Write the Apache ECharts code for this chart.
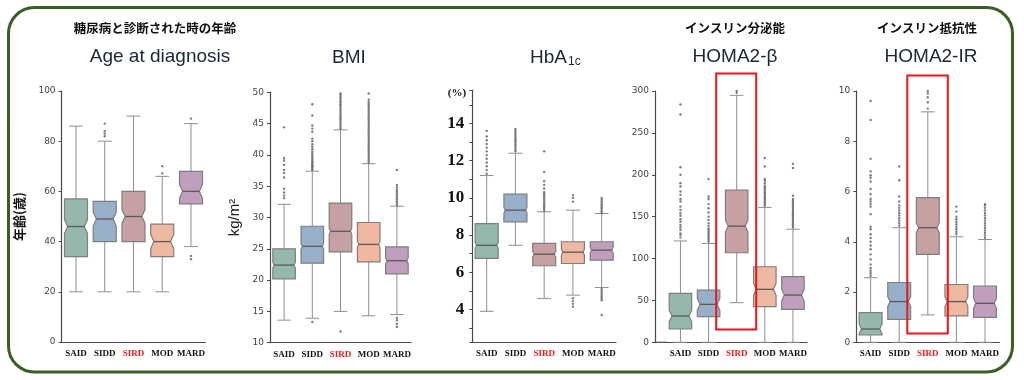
<!DOCTYPE html>
<html><head><meta charset="utf-8">
<script src="https://cdn.jsdelivr.net/npm/echarts@6/dist/echarts.min.js"></script>
<style>html,body{margin:0;padding:0;background:#fff}#c{width:1024px;height:380px}</style>
</head><body><div id="c"></div>
<script>
// ---------- DATA ----------
const categories = ['SAID', 'SIDD', 'SIRD', 'MOD', 'MARD'];
// each box: [low whisker, Q1, median, Q3, high whisker]
const ageBoxes = [[20, 34, 46, 57, 86], [20, 40, 49, 56, 80], [20, 40, 50, 60, 90], [20, 34, 40, 47, 66], [38, 55, 60, 68, 87]];
const ageOutliers = [[], [82, 83, 84, 87], [], [67.2, 70], [89, 34.3, 33]];
const ageAxis = [0, 100, 20];

const bmiBoxes = [[13.6, 20.2, 22.4, 25.0, 32.1], [13.9, 22.7, 25.4, 28.6, 37.4], [15.0, 24.5, 27.8, 32.3, 44.0], [14.3, 22.9, 25.7, 29.2, 38.6], [14.5, 21.0, 23.1, 25.3, 31.8]];
const bmiOutliers = [
  [33.1, 33.5, 34.0, 34.6, 36.4, 37.1, 37.6, 38.4, 39.1, 39.5, 44.4],
  [13.3, 37.6, 37.8, 38.0, 38.2, 38.4, 38.6, 38.8, 39.0, 39.3, 39.6, 39.9, 40.2, 40.5, 40.9, 41.3, 41.7, 42.2, 42.6, 43.7, 44.2, 44.7, 46.3, 48.1],
  [11.8, 44.2, 44.5, 44.8, 45.1, 45.4, 45.7, 46.0, 46.3, 46.6, 46.9, 47.2, 47.5, 47.8, 48.1, 48.4, 48.7, 49.0, 49.3, 49.6, 49.8],
  [38.8, 39.1, 39.4, 39.7, 40.0, 40.3, 40.6, 40.9, 41.2, 41.5, 41.8, 42.1, 42.4, 42.7, 43.0, 43.3, 43.6, 43.9, 44.2, 44.5, 44.8, 45.1, 45.4, 45.7, 46.0, 46.3, 46.6, 46.9, 47.2, 47.5, 47.8, 48.1, 48.4, 48.8, 49.8],
  [12.5, 13.0, 13.6, 14.0, 32.0, 32.3, 32.6, 32.9, 33.2, 33.5, 33.8, 34.1, 34.4, 34.8, 35.2, 37.6]
];
const bmiAxis = [10, 50, 5];

const hbaBoxes = [[3.9, 6.75, 7.45, 8.62, 11.2], [7.45, 8.71, 9.34, 10.2, 12.4], [4.59, 6.35, 6.97, 7.55, 9.25], [4.77, 6.47, 7.08, 7.64, 9.34], [5.18, 6.65, 7.19, 7.64, 9.16]];
const hbaOutliers = [
  [11.3, 11.5, 11.7, 11.9, 12.1, 12.3, 12.5, 12.7, 12.9, 13.1, 13.3, 13.6],
  [12.5, 12.6, 12.7, 12.8, 12.9, 13.0, 13.1, 13.2, 13.3, 13.4, 13.5, 13.6, 13.7],
  [9.3, 9.4, 9.5, 9.6, 9.7, 9.8, 9.9, 10.0, 10.1, 10.2, 10.3, 10.5, 10.7, 10.9, 11.4, 12.5],
  [9.8, 10.0, 10.15, 4.6, 4.45, 4.3, 4.15],
  [9.2, 9.3, 9.4, 9.5, 9.6, 9.7, 9.8, 9.9, 10.0, 5.1, 5.0, 4.9, 4.8, 4.7, 4.6, 4.5, 3.7]
];
const hbaLabels = [4, 6, 8, 10, 12, 14];

const betaBoxes = [[0, 15.9, 31.4, 58.4, 121], [0, 30.6, 45.3, 62.4, 118], [47.3, 106.9, 138.7, 181.6, 294.8], [0, 42.5, 63.2, 90.2, 161], [0, 39.3, 56.4, 78.3, 135]];
const betaOutliers = [
  [125, 128, 130, 134, 137, 140, 144, 147, 151, 154, 158, 162, 168, 171, 176, 180, 186, 190, 200, 209, 272, 284],
  [120, 122, 124, 126, 128, 130, 132, 134, 136, 139, 142, 146, 150, 155, 160, 165, 171, 174, 195],
  [298, 300],
  [163, 165, 167, 169, 171, 173, 175, 177, 179, 181, 183, 185, 187, 190, 193, 195, 210, 220],
  [137, 139, 141, 143, 145, 147, 149, 151, 153, 155, 157, 159, 161, 163, 165, 167, 169, 171, 175, 208, 213]
];
const betaAxis = [0, 300, 50];

const irBoxes = [[0, 0.29, 0.53, 1.18, 2.57], [0, 0.91, 1.62, 2.38, 4.56], [1.09, 3.5, 4.56, 5.76, 9.17], [0, 1.05, 1.62, 2.3, 4.2], [0, 0.99, 1.55, 2.24, 4.09]];
const irOutliers = [
  [2.65, 2.75, 2.85, 2.95, 3.1, 3.3, 3.5, 3.7, 3.85, 4.0, 4.15, 4.3, 4.5, 4.6, 5.1, 5.4, 5.5, 5.6, 5.7, 5.9, 6.1, 6.4, 6.55, 6.65, 6.8, 7.3, 8.85, 9.6],
  [4.65, 4.75, 4.85, 4.95, 5.05, 5.15, 5.25, 5.35, 5.45, 5.6, 5.8, 6.45, 7.0],
  [9.3, 9.55, 9.75, 9.9, 10.0],
  [4.3, 4.4, 4.5, 4.6, 4.7, 4.8, 4.9, 5.0, 5.2, 5.4],
  [4.15, 4.25, 4.35, 4.45, 4.55, 4.65, 4.75, 4.85, 4.95, 5.05, 5.15, 5.25, 5.35, 5.45, 5.5]
];
const irAxis = [0, 10, 2];

const boxColors = ['#95b8ad', '#98afca', '#c6a0a2', '#efb8a0', '#c09fbd'];

// ---------- CHART ----------
const chart = echarts.init(document.getElementById('c'), null, {renderer: 'canvas'});

const panels = [
  {boxes: ageBoxes, outliers: ageOutliers, grid: {left: 61.6, top: 91, width: 143.75, height: 251}, notch: 7},
  {boxes: bmiBoxes, outliers: bmiOutliers, grid: {left: 270, top: 92.3, width: 141, height: 250.4}, notch: 3},
  {boxes: hbaBoxes, outliers: hbaOutliers, grid: {left: 472.3, top: 90, width: 143.75, height: 252}, notch: 3},
  {boxes: betaBoxes, outliers: betaOutliers, grid: {left: 666.4, top: 91, width: 140.6, height: 251.3}, notch: 6},
  {boxes: irBoxes, outliers: irOutliers, grid: {left: 856.3, top: 91, width: 143, height: 251.3}, notch: 5}
];

function makeRender(notchPx) {
  return function (params, api) {
    const i = api.value(0);
    const p = [1, 2, 3, 4, 5].map(k => api.coord([i, api.value(k)]));
    const cx = p[0][0];
    const band = api.size([1, 0])[0];
    const w = band * 0.8, L = cx - w / 2, R = cx + w / 2;
    const yLo = p[0][1], yQ1 = p[1][1], yMd = p[2][1], yQ3 = p[3][1], yHi = p[4][1];
    let nh = Math.min(notchPx, Math.abs(yQ1 - yMd) - 0.5, Math.abs(yMd - yQ3) - 0.5);
    if (nh < 0) nh = 0;
    const ni = nh * 0.45;
    const cw = w * 0.3;
    const wStyle = {stroke: '#8f8f8f', lineWidth: 1, fill: null};
    const color = boxColors[params.dataIndex];
    return {
      type: 'group',
      children: [
        {type: 'line', shape: {x1: cx, y1: yQ1, x2: cx, y2: yLo}, style: wStyle},
        {type: 'line', shape: {x1: cx, y1: yQ3, x2: cx, y2: yHi}, style: wStyle},
        {type: 'line', shape: {x1: cx - cw, y1: yLo, x2: cx + cw, y2: yLo}, style: wStyle},
        {type: 'line', shape: {x1: cx - cw, y1: yHi, x2: cx + cw, y2: yHi}, style: wStyle},
        {type: 'polygon', shape: {points: [
          [L, yQ3], [R, yQ3], [R, yMd - nh], [R - ni, yMd], [R, yMd + nh], [R, yQ1],
          [L, yQ1], [L, yMd + nh], [L + ni, yMd], [L, yMd - nh]]},
          style: {fill: color, stroke: '#7e7e7e', lineWidth: 1.2}},
        {type: 'line', shape: {x1: L + ni, y1: yMd, x2: R - ni, y2: yMd}, style: {stroke: '#5a5a5a', lineWidth: 1.3}}
      ]
    };
  };
}

const xAxes = [], yAxes = [], series = [];
const axisSpecs = [ageAxis, bmiAxis, null, betaAxis, irAxis];

panels.forEach((pn, gi) => {
  xAxes.push({
    type: 'category', gridIndex: gi, data: categories,
    axisLine: {lineStyle: {color: '#4a4a4a', width: 1.2}},
    axisTick: {alignWithLabel: true, length: 3, lineStyle: {color: '#4a4a4a'}},
    splitLine: {show: false},
    axisLabel: {
      interval: 0, hideOverlap: false,
      margin: 7, fontFamily: 'Liberation Serif', fontWeight: 'bold', fontSize: 9, color: '#111',
      formatter: v => v === 'SIRD' ? '{r|SIRD}' : v,
      rich: {r: {color: '#ee1c1c', fontFamily: 'Liberation Serif', fontWeight: 'bold', fontSize: 9}}
    }
  });
  const spec = axisSpecs[gi];
  const y = {
    type: 'value', gridIndex: gi,
    axisLine: {show: true, lineStyle: {color: '#4a4a4a', width: 1.2}},
    axisTick: {show: true, length: 3, lineStyle: {color: '#4a4a4a'}},
    splitLine: {show: false},
    axisLabel: {fontSize: 9, color: '#444', fontFamily: 'DejaVu Sans', margin: 6}
  };
  if (spec) {
    y.min = spec[0]; y.max = spec[1]; y.interval = spec[2];
  } else {
    y.min = 2.25; y.max = 15.8; y.splitNumber = 13;
    y.axisLabel = {
      fontSize: 17, color: '#111', fontFamily: 'Liberation Serif', fontWeight: 'bold', margin: 8,
      formatter: v => hbaLabels.indexOf(v) >= 0 ? String(v) : ''
    };
  }
  if (gi === 3) y.offset = 11.4;
  if (gi === 0) {
    y.name = '年齢(歳)'; y.nameLocation = 'middle'; y.nameGap = 36; y.nameRotate = 90;
    y.nameTextStyle = {fontFamily: 'Noto Sans CJK JP', fontWeight: 'bold', fontSize: 13, color: '#111'};
  }
  if (gi === 1) {
    y.name = 'kg/m²'; y.nameLocation = 'middle'; y.nameGap = 28; y.nameRotate = 90;
    y.nameTextStyle = {fontFamily: 'Liberation Sans', fontSize: 15, color: '#222'};
  }
  yAxes.push(y);

  series.push({
    type: 'custom', xAxisIndex: gi, yAxisIndex: gi,
    renderItem: makeRender(pn.notch),
    encode: {x: 0, y: [1, 2, 3, 4, 5]},
    data: pn.boxes.map((b, j) => [j].concat(b)),
    z: 2
  });
  const pts = [];
  pn.outliers.forEach((arr, j) => arr.forEach(v => pts.push([j, v])));
  series.push({
    type: 'scatter', xAxisIndex: gi, yAxisIndex: gi, data: pts,
    symbol: 'circle', symbolSize: 2.4, itemStyle: {color: '#5e5e5e'}, z: 3, silent: true
  });
});

function txt(x, y, text, font, fill, align) {
  return {type: 'text', x: x, y: y, silent: true,
    style: {text: text, font: font, fill: fill, align: align || 'center', verticalAlign: 'middle'}};
}
const titleFont = '19px "Liberation Sans", Arial, sans-serif';
const jpFont = 'bold 12.5px "Noto Sans CJK JP", sans-serif';
const titleColor = '#1c2636';

chart.setOption({
  animation: false,
  backgroundColor: '#ffffff',
  grid: panels.map(p => Object.assign({containLabel: false}, p.grid)),
  xAxis: xAxes,
  yAxis: yAxes,
  series: series
});

// graphic overlays (frame, titles, highlight boxes)
const sirdBeta = chart.convertToPixel({xAxisIndex: 3, yAxisIndex: 3}, [2, 0]);
const sirdIr = chart.convertToPixel({xAxisIndex: 4, yAxisIndex: 4}, [2, 0]);
chart.setOption({
  graphic: [
    {type: 'rect', silent: true, shape: {x: 8.5, y: 7.5, width: 1004, height: 364.5, r: 26},
      style: {fill: null, stroke: '#3a5e26', lineWidth: 3}},
    txt(155, 28, '糖尿病と診断された時の年齢', jpFont, '#111'),
    txt(735, 28, 'インスリン分泌能', jpFont, '#111'),
    txt(927, 28, 'インスリン抵抗性', jpFont, '#111'),
    txt(160, 57, 'Age at diagnosis', titleFont, titleColor),
    txt(349, 58, 'BMI', titleFont, titleColor),
    txt(567, 58, 'HbA', titleFont, titleColor, 'right'),
    txt(568, 62, '1c', '12px "Liberation Sans", Arial, sans-serif', titleColor, 'left'),
    txt(735, 57, 'HOMA2-β', titleFont, titleColor),
    txt(931, 57, 'HOMA2-IR', titleFont, titleColor),
    txt(457, 93, '(%)', 'bold 11px "Liberation Serif", serif', '#111'),
    {type: 'line', silent: true, shape: {x1: 655, y1: 342.3, x2: 667, y2: 342.3},
      style: {stroke: '#4a4a4a', lineWidth: 1.2}},
    {type: 'rect', silent: true, shape: {x: sirdBeta[0] - 20.5, y: 73.5, width: 40, height: 256}, z: 10,
      style: {fill: null, stroke: '#e8161b', lineWidth: 2}},
    {type: 'rect', silent: true, shape: {x: sirdIr[0] - 20.5, y: 75.5, width: 40.5, height: 258}, z: 10,
      style: {fill: null, stroke: '#e8161b', lineWidth: 2}}
  ]
});
</script></body></html>
